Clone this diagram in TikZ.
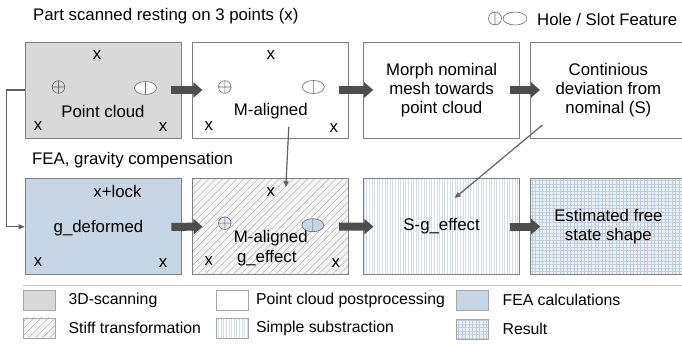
\documentclass[tikz,border=0pt]{standalone}
\usepackage{fontspec}
\setmainfont{Liberation Sans}
\usetikzlibrary{positioning,arrows.meta,patterns.meta}

\definecolor{scangray}{RGB}{217,217,217}
\definecolor{feablue}{RGB}{199,213,228}
\definecolor{framegray}{RGB}{128,128,128}
\definecolor{arrowgray}{RGB}{77,77,77}
\definecolor{linegray}{RGB}{96,96,96}
\definecolor{stiffbg}{RGB}{244,244,244}
\definecolor{stiffline}{RGB}{190,190,190}
\definecolor{subline}{RGB}{212,220,230}
\definecolor{resbg}{RGB}{236,241,247}
\definecolor{resline}{RGB}{190,204,223}

% hole = circle with cross, slot = ellipse with centre line
\newcommand{\holemark}[2]{\draw[feat, fill=#2] (#1) circle (6.3pt) ++(-6.3pt,0) -- ++(12.6pt,0) ++(-6.3pt,-6.3pt) -- ++(0,12.6pt);}
\newcommand{\slotmark}[2]{\draw[feat, fill=#2] (#1) ellipse (11pt and 6.5pt) ++(0,-6.5pt) -- ++(0,13pt);}

\begin{document}
\begin{tikzpicture}[x=1pt, y=1pt,
    font=\fontsize{16.8}{19}\selectfont,
    box/.style={draw=framegray, line width=0.8pt, minimum width=156pt, minimum height=96pt, inner sep=0pt, align=center},
    scanfill/.style={fill=scangray},
    postfill/.style={fill=white},
    feafill/.style={fill=feablue},
    stifffill/.style={preaction={fill=stiffbg}, pattern={Lines[angle=45,distance=5pt,line width=0.6pt]}, pattern color=stiffline},
    subfill/.style={preaction={fill=white}, pattern={Lines[angle=90,distance=2.6pt,line width=0.4pt]}, pattern color=subline},
    resfill/.style={preaction={fill=resbg}, pattern={Hatch[angle=0,distance=3.5pt,line width=0.4pt]}, pattern color=resline},
    fat/.style={draw=arrowgray, line width=8pt, -{Triangle[length=9pt,width=15pt]}},
    link/.style={draw=linegray, line width=1.2pt, -{Triangle[length=6pt,width=5pt]}},
    feat/.style={draw=gray!85!black, line width=0.6pt},
    swatch/.style={draw=gray!70, line width=0.8pt, minimum width=32pt, minimum height=20pt, inner sep=0pt},
    legend/.style={font=\fontsize{15.8}{18}\selectfont, inner sep=0pt},
    caption/.style={anchor=west, inner sep=0pt}]

  \useasboundingbox (0,0) rectangle (682,345);

  % top row: scan and point cloud steps
  \node[box, scanfill] (pc) at (103,255) {};
  \node[box, postfill, right=11pt of pc] (mal) {};
  \node[box, postfill, right=14pt of mal] (morph) {Morph nominal\\mesh towards\\point cloud};
  \node[box, postfill, right=10pt of morph] (dev) {Continious\\deviation from\\nominal (S)};

  % bottom row: gravity compensation
  \node[box, feafill, below=40pt of pc] (gd) {};
  \node[box, stifffill, below=40pt of mal] (mag) {};
  \node[box, subfill, below=40pt of morph] (sg) {S-g\_effect};
  \node[box, resfill, below=40pt of dev] (est) {Estimated free\\state shape};

  \node[caption] (title) at (33,329) {Part scanned resting on 3 points (x)};
  \node[caption] (featkey) at (537,325) {Hole / Slot Feature};
  \node[caption] (featext) at (32,185) {FEA, gravity compensation};

  \node (pctxt) at ([yshift=-21pt]pc.center) {Point cloud};
  \node (maltxt) at ([yshift=-21pt]mal.center) {M-aligned};
  \node (lock) at ([shift={(14.5,35.5)}]gd.center) {x+lock};
  \node (gdtxt) at ([shift={(-4.5,-1.5)}]gd.center) {g\_deformed};
  \node (magtxt) at ([yshift=-11.5pt]mag.center) {M-aligned};
  \node (magtxt2) at ([shift={(-4,-31.5)}]mag.center) {g\_effect};

  % support points
  \foreach \b/\dx/\dy [count=\i] in {pc/-6/35, pc/-65/-36, pc/60/-37,
      mal/0/35, mal/-62/-36, mal/63/-38,
      gd/-65/-35.5, gd/60/-36.5,
      mag/0/34.5, mag/-62/-34.5, mag/65/-36.5}
    \node[inner sep=0pt] (x\i) at ([shift={(\dx,\dy)}]\b.center) {x};

  % hole and slot features
  \coordinate (pchole) at ([shift={(-44.5,3)}]pc.center);
  \coordinate (pcslot) at ([shift={(42.5,2)}]pc.center);
  \coordinate (malhole) at ([shift={(-46,3)}]mal.center);
  \coordinate (malslot) at ([shift={(42.5,3)}]mal.center);
  \coordinate (maghole) at ([shift={(-46,3.5)}]mag.center);
  \coordinate (magslot) at ([shift={(42,1.5)}]mag.center);
  \holemark{pchole}{scangray}
  \slotmark{pcslot}{white}
  \holemark{malhole}{white}
  \slotmark{malslot}{white}
  \holemark{maghole}{feablue!60}
  \slotmark{magslot}{feablue}

  \coordinate (keyhole) at (495,326.5);
  \coordinate (keyslot) at (515,326.5);
  \draw[feat] (keyhole) circle (6.5pt) ++(0,-6.5pt) -- ++(0,13pt);
  \draw[feat] (keyslot) ellipse (12pt and 6.5pt);

  % flow
  \foreach \a/\b in {pc/mal, mal/morph, morph/dev, gd/mag, mag/sg, sg/est}
    \draw[fat] ([xshift=-10pt]\a.east) -- ([xshift=10pt]\b.west);

  \draw[link] (pc.west) -- ++(-18pt,0) |- (gd.west);
  \coordinate (malfoot) at ([shift={(18,-37)}]mal.center);
  \coordinate (maghead) at ([shift={(15,39.5)}]mag.center);
  \draw[link] (malfoot) -- (maghead);
  \coordinate (devfoot) at ([shift={(-66,-35)}]dev.center);
  \coordinate (sghead) at ([shift={(13,28.5)}]sg.center);
  \draw[link] (devfoot) -- (sghead);

  % legend
  \draw[gray!45, line width=0.8pt] (23,60) -- (682,60);
  \node[swatch, scanfill] (lgscan) at (39,45) {};
  \node[legend, right=13pt of lgscan] (lgscantxt) {3D-scanning};
  \node[swatch, stifffill] (lgstiff) at (39,17) {};
  \node[legend, right=13pt of lgstiff] (lgstifftxt) {Stiff transformation};
  \node[swatch, postfill] (lgpost) at (232.5,45) {};
  \node[legend, right=7pt of lgpost] (lgposttxt) {Point cloud postprocessing};
  \node[swatch, subfill] (lgsub) at (232.5,17) {};
  \node[legend, right=7pt of lgsub] (lgsubtxt) {Simple substraction};
  \node[swatch, feafill] (lgfea) at (472,45) {};
  \node[legend, right=14pt of lgfea] (lgfeatxt) {FEA calculations};
  \node[swatch, resfill] (lgres) at (472,16) {};
  \node[legend, right=14pt of lgres] (lgrestxt) {Result};
\end{tikzpicture}
\end{document}
